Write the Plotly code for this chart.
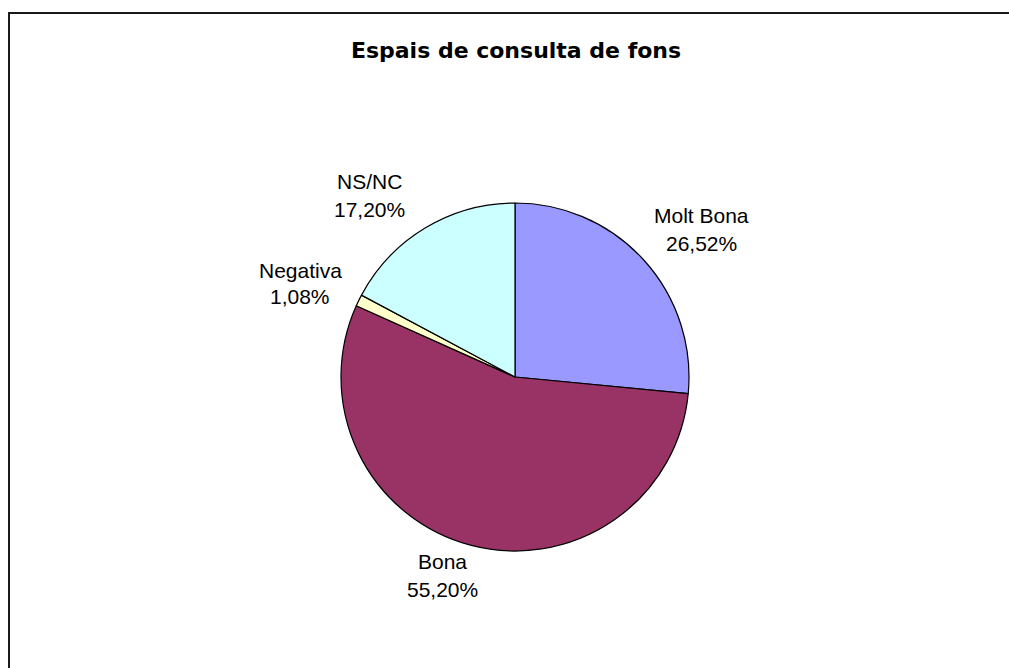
import plotly.graph_objects as go

# Survey answers for "Espais de consulta de fons"
categories = ["Molt Bona", "Bona", "Negativa", "NS/NC"]
shares = [26.52, 55.20, 1.08, 17.20]
slice_colors = ["#9999FF", "#993366", "#FFFFCC", "#CCFFFF"]

W, H = 1009, 668

# Pie geometry in page pixels
cx, cy, r = 515, 377, 174

# Label anchors (centre x, centre y of name line, centre y of value line) in pixels
label_pos = {
    "Molt Bona": (701, 215, 243),
    "Bona": (442, 561, 589),
    "Negativa": (300, 270, 297),
    "NS/NC": (369, 181, 209),
}


def px_x(x):
    return x / W


def px_y(y):
    return 1 - y / H


fig = go.Figure()
fig.add_trace(go.Pie(
    labels=categories,
    values=shares,
    sort=False,
    direction="clockwise",
    rotation=0,
    marker=dict(colors=slice_colors, line=dict(color="#000000", width=1.2)),
    textinfo="none",
    hoverinfo="label+percent",
    showlegend=False,
    domain=dict(x=[px_x(cx - r), px_x(cx + r)], y=[px_y(cy + r), px_y(cy - r)]),
))

label_font = dict(family="Liberation Sans, Arial, sans-serif", size=21, color="#000000")
annotations = []
for name, val in zip(categories, shares):
    x, y_name, y_val = label_pos[name]
    pct = f"{val:.2f}".replace(".", ",") + "%"
    annotations.append(dict(text=name, x=px_x(x), y=px_y(y_name), xref="paper", yref="paper",
                            xanchor="center", yanchor="middle", showarrow=False, font=label_font))
    annotations.append(dict(text=pct, x=px_x(x), y=px_y(y_val), xref="paper", yref="paper",
                            xanchor="center", yanchor="middle", showarrow=False, font=label_font))

fig.update_layout(
    width=W,
    height=H,
    margin=dict(l=0, r=0, t=0, b=0),
    paper_bgcolor="#FFFFFF",
    plot_bgcolor="#FFFFFF",
    title=dict(
        text="<b>Espais de consulta de fons</b>",
        x=px_x(516), y=px_y(50), xref="paper", yref="paper",
        xanchor="center", yanchor="middle",
        font=dict(family="DejaVu Sans", size=22, color="#000000"),
    ),
    annotations=annotations,
    shapes=[dict(type="rect", xref="paper", yref="paper",
                 x0=px_x(9), y0=px_y(H + 20), x1=px_x(W + 20), y1=px_y(13),
                 line=dict(color="#1a1a1a", width=2), fillcolor="rgba(0,0,0,0)")],
)

fig.write_html("out.html")
